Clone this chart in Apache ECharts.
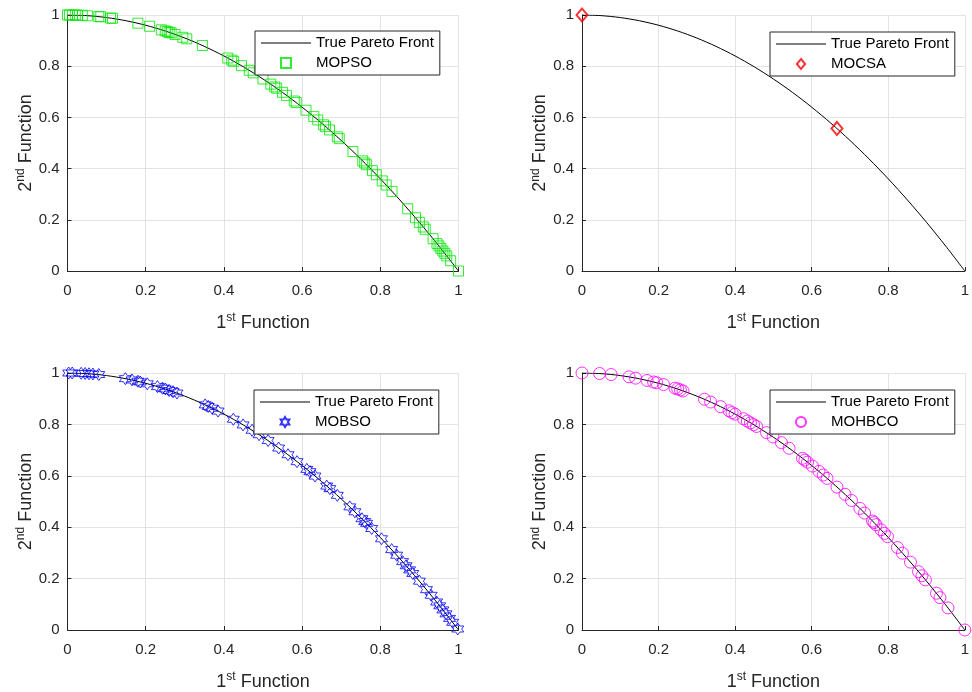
<!DOCTYPE html>
<html>
<head>
<meta charset="utf-8">
<script src="https://cdn.jsdelivr.net/npm/echarts@6/dist/echarts.min.js"></script>
<style>html,body{margin:0;padding:0;background:#fff}#c{width:972px;height:692px}</style>
</head>
<body>
<div id="c"></div>
<script>
// ---- data ----
const xTickValues = [0, 0.2, 0.4, 0.6, 0.8, 1];
const yTickValues = [0, 0.2, 0.4, 0.6, 0.8, 1];

const frontX = [0, 0.05, 0.1, 0.15, 0.2, 0.25, 0.3, 0.35, 0.4, 0.45, 0.5, 0.55, 0.6, 0.65, 0.7, 0.75, 0.8, 0.85, 0.9, 0.95, 1];
const frontY = [1, 0.9975, 0.99, 0.9775, 0.96, 0.9375, 0.91, 0.8775, 0.84, 0.7975, 0.75, 0.6975, 0.64, 0.5775, 0.51, 0.4375, 0.36, 0.2775, 0.19, 0.0975, 0];

const mopsoX = [0, 0.005, 0.013, 0.02, 0.026, 0.038, 0.051, 0.08, 0.085, 0.11, 0.115, 0.18, 0.21, 0.24, 0.25, 0.255, 0.26, 0.265, 0.275, 0.295, 0.305, 0.345, 0.41, 0.42, 0.425, 0.445, 0.465, 0.475, 0.50, 0.52, 0.53, 0.535, 0.55, 0.56, 0.58, 0.585, 0.61, 0.63, 0.64, 0.655, 0.66, 0.67, 0.69, 0.695, 0.73, 0.755, 0.76, 0.765, 0.78, 0.79, 0.805, 0.815, 0.83, 0.87, 0.89, 0.90, 0.91, 0.915, 0.935, 0.945, 0.95, 0.955, 0.96, 0.965, 0.97, 0.98, 1.0];
const mopsoY = [1.000, 1.000, 1.000, 1.000, 0.999, 0.999, 0.997, 0.994, 0.993, 0.988, 0.987, 0.968, 0.956, 0.942, 0.938, 0.935, 0.932, 0.930, 0.924, 0.913, 0.907, 0.881, 0.832, 0.824, 0.819, 0.802, 0.784, 0.774, 0.750, 0.730, 0.719, 0.714, 0.698, 0.686, 0.664, 0.658, 0.628, 0.603, 0.590, 0.571, 0.564, 0.551, 0.524, 0.517, 0.467, 0.430, 0.422, 0.415, 0.392, 0.376, 0.352, 0.336, 0.311, 0.243, 0.208, 0.190, 0.172, 0.163, 0.126, 0.107, 0.098, 0.088, 0.078, 0.069, 0.059, 0.040, 0.000];

const mocsaX = [0, 0.666];
const mocsaY = [1.000, 0.557];

const mobsoX = [0.003, 0.012, 0.035, 0.045, 0.055, 0.065, 0.08, 0.148, 0.165, 0.18, 0.186, 0.204, 0.23, 0.243, 0.25, 0.26, 0.27, 0.28, 0.352, 0.36, 0.37, 0.385, 0.424, 0.449, 0.472, 0.49, 0.513, 0.54, 0.564, 0.587, 0.612, 0.62, 0.633, 0.663, 0.671, 0.69, 0.722, 0.735, 0.753, 0.76, 0.765, 0.778, 0.803, 0.829, 0.842, 0.857, 0.866, 0.875, 0.883, 0.9, 0.918, 0.93, 0.944, 0.952, 0.96, 0.968, 0.977, 0.985, 0.998];
const mobsoY = [1.000, 1.000, 0.999, 0.998, 0.997, 0.996, 0.994, 0.978, 0.973, 0.968, 0.965, 0.958, 0.947, 0.941, 0.938, 0.932, 0.927, 0.922, 0.876, 0.870, 0.863, 0.852, 0.820, 0.798, 0.777, 0.760, 0.737, 0.708, 0.682, 0.655, 0.625, 0.616, 0.599, 0.560, 0.550, 0.524, 0.479, 0.460, 0.433, 0.422, 0.415, 0.395, 0.355, 0.313, 0.291, 0.266, 0.250, 0.234, 0.220, 0.190, 0.157, 0.135, 0.109, 0.094, 0.078, 0.063, 0.045, 0.030, 0.004];

const mohbcoX = [0, 0.046, 0.076, 0.123, 0.14, 0.17, 0.187, 0.195, 0.213, 0.243, 0.25, 0.257, 0.264, 0.32, 0.336, 0.362, 0.384, 0.392, 0.4, 0.422, 0.432, 0.44, 0.448, 0.456, 0.482, 0.499, 0.521, 0.541, 0.576, 0.582, 0.589, 0.602, 0.619, 0.63, 0.64, 0.666, 0.687, 0.704, 0.726, 0.738, 0.759, 0.763, 0.768, 0.781, 0.79, 0.798, 0.824, 0.837, 0.858, 0.879, 0.888, 0.897, 0.926, 0.935, 0.956, 1.0];
const mohbcoY = [1.000, 0.998, 0.994, 0.985, 0.980, 0.971, 0.965, 0.962, 0.955, 0.941, 0.938, 0.934, 0.930, 0.898, 0.887, 0.869, 0.853, 0.846, 0.840, 0.822, 0.813, 0.806, 0.799, 0.792, 0.768, 0.751, 0.729, 0.707, 0.668, 0.661, 0.653, 0.638, 0.617, 0.603, 0.590, 0.556, 0.528, 0.504, 0.473, 0.455, 0.424, 0.418, 0.410, 0.390, 0.376, 0.363, 0.321, 0.299, 0.264, 0.227, 0.211, 0.195, 0.143, 0.126, 0.086, 0.000];

const frontName = 'True Pareto Front';
const algNames = ['MOPSO', 'MOCSA', 'MOBSO', 'MOHBCO'];

// ---- build ----
function zip(xs, ys) { return xs.map((x, i) => [x, ys[i]]); }
const FONT = '"Liberation Sans", Arial, Helvetica, sans-serif';
const AX = '#262626';
const hexagram = 'path://M100,0 L128.9,50 L186.6,50 L157.7,100 L186.6,150 L128.9,150 L100,200 L71.1,150 L13.4,150 L42.3,100 L13.4,50 L71.1,50 Z';
const squarePath = 'path://M0,0 L10,0 L10,10 L0,10 Z';
const diamondPath = 'path://M5,0 L10,6 L5,12 L0,6 Z';
const circlePath = 'circle';
const linePath = 'path://M0,0 L50,0 L50,1.1 L0,1.1 Z';

const grids = [
  { left: 67.5, top: 15, width: 391, height: 256 },
  { left: 582, top: 15, width: 390, height: 256 },
  { left: 67.5, top: 373, width: 391, height: 258 },
  { left: 582, top: 373, width: 390, height: 258 }
];
const legendPos = [
  { left: 255, top: 31 },
  { left: 770, top: 32 },
  { left: 254, top: 390 },
  { left: 770, top: 390 }
];
const algData = [zip(mopsoX, mopsoY), zip(mocsaX, mocsaY), zip(mobsoX, mobsoY), zip(mohbcoX, mohbcoY)];
const algStyle = [
  { symbol: squarePath, symbolSize: 10, itemStyle: { color: 'rgba(0,0,0,0)', borderColor: '#00e600', borderWidth: 1 } },
  { symbol: diamondPath, symbolSize: [11, 13], itemStyle: { color: 'rgba(0,0,0,0)', borderColor: '#ff0000', borderWidth: 2 } },
  { symbol: hexagram, symbolSize: 12, itemStyle: { color: 'rgba(0,0,0,0)', borderColor: '#0000ff', borderWidth: 1 } },
  { symbol: circlePath, symbolSize: 12, itemStyle: { color: 'rgba(0,0,0,0)', borderColor: '#ff00ff', borderWidth: 1 } }
];
const legendIcons = [squarePath, diamondPath, hexagram, 'circle'];

const rich = {
  b: { fontSize: 18, fontFamily: FONT, color: AX, lineHeight: 22 },
  sup: { fontSize: 12, fontFamily: FONT, color: AX, lineHeight: 12, verticalAlign: 'top' }
};

const xAxis = [], yAxis = [], series = [], legend = [];
grids.forEach((g, i) => {
  xAxis.push({
    type: 'value', gridIndex: i, min: xTickValues[0], max: xTickValues[xTickValues.length - 1], interval: 0.2,
    name: '{b|1}{sup|st}{b| Function}', nameLocation: 'middle', nameGap: 41,
    nameTextStyle: { rich: rich },
    axisLine: { show: true, lineStyle: { color: AX, width: 1 } },
    axisTick: { show: true, inside: true, length: 4, lineStyle: { color: AX } },
    axisLabel: { fontSize: 15, fontFamily: FONT, color: AX, margin: 12, formatter: v => String(+v.toFixed(1)) },
    splitLine: { show: true, lineStyle: { color: '#e3e3e3', width: 1 } }
  });
  yAxis.push({
    type: 'value', gridIndex: i, min: yTickValues[0], max: yTickValues[yTickValues.length - 1], interval: 0.2,
    name: '{b|2}{sup|nd}{b| Function}', nameLocation: 'middle', nameGap: 30, nameRotate: 90,
    nameTextStyle: { rich: rich },
    axisLine: { show: true, lineStyle: { color: AX, width: 1 } },
    axisTick: { show: true, inside: true, length: 4, lineStyle: { color: AX } },
    axisLabel: { fontSize: 15, fontFamily: FONT, color: AX, margin: 8, formatter: v => String(+v.toFixed(1)) },
    splitLine: { show: true, lineStyle: { color: '#e3e3e3', width: 1 } }
  });
  series.push({
    name: frontName, type: 'line', xAxisIndex: i, yAxisIndex: i,
    data: zip(frontX, frontY), smooth: 0.3, symbol: 'none', showSymbol: false,
    lineStyle: { color: '#000', width: 1 }, itemStyle: { color: '#000' }, z: 2, silent: true
  });
  series.push(Object.assign({
    name: algNames[i], type: 'scatter', xAxisIndex: i, yAxisIndex: i,
    data: algData[i], z: 3, silent: true
  }, algStyle[i]));
  legend.push({
    left: legendPos[i].left, top: legendPos[i].top, orient: 'vertical',
    data: [
      { name: frontName, icon: linePath, itemStyle: { color: '#000', borderWidth: 0 } },
      { name: algNames[i], icon: legendIcons[i] }
    ],
    backgroundColor: '#fff', borderColor: AX, borderWidth: 1,
    padding: [4, 6, 4, 6], itemWidth: 50, itemHeight: 10, itemGap: 4,
    textStyle: { fontSize: 15, fontFamily: FONT, color: '#000', lineHeight: 16 },
    selectedMode: false
  });
});

const chart = echarts.init(document.getElementById('c'), null, { renderer: 'canvas' });
chart.setOption({
  animation: false,
  backgroundColor: '#fff',
  grid: grids,
  xAxis: xAxis,
  yAxis: yAxis,
  legend: legend,
  series: series
});
</script>
</body>
</html>
